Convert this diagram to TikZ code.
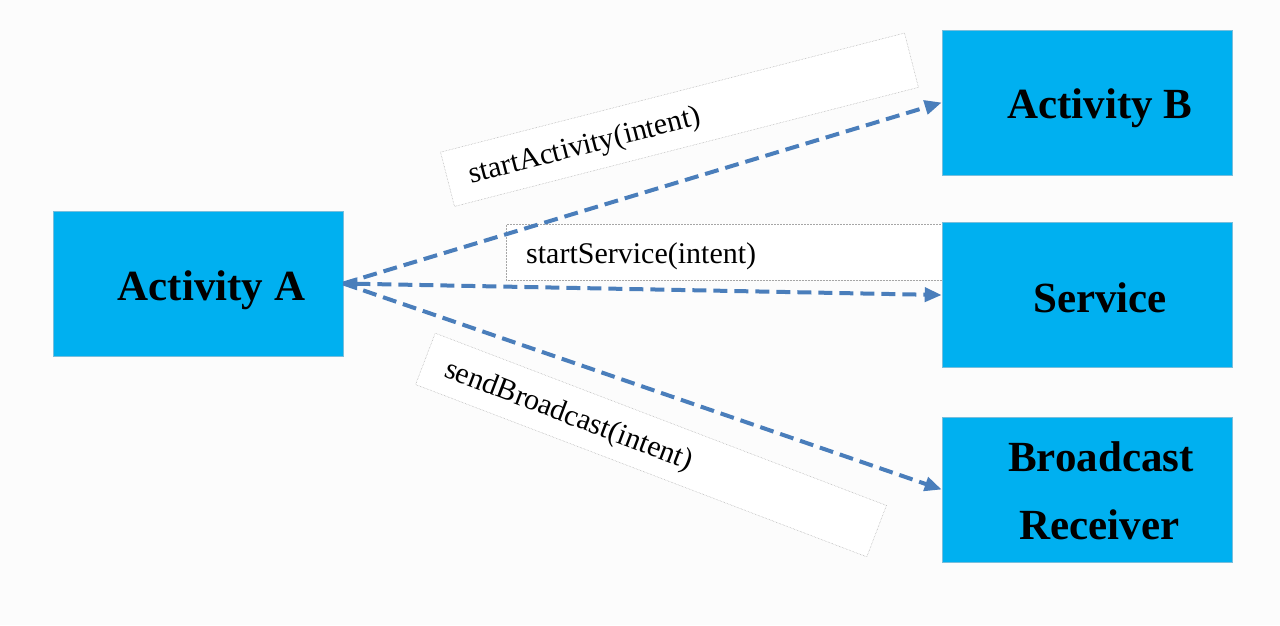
\documentclass[tikz,border=0pt]{standalone}
\usepackage{fontspec}
\setmainfont{Liberation Serif}
\usetikzlibrary{arrows.meta}
\definecolor{bgc}{RGB}{252,252,252}
\definecolor{boxblue}{RGB}{0,176,240}
\definecolor{boxedge}{RGB}{120,190,220}
\definecolor{arrowblue}{RGB}{74,126,187}
\tikzset{
  compbox/.style={fill=boxblue, draw=boxedge, line width=0.6pt, minimum width=290pt, minimum height=145pt, inner sep=0pt},
  comptext/.style={font=\fontsize{43}{50}\selectfont\bfseries, inner sep=0pt, anchor=base},
  labbox/.style={fill=white, draw=gray!70, densely dotted, line width=0.5pt, inner sep=0pt},
  labtext/.style={font=\fontsize{30}{36}\selectfont, inner sep=0pt, anchor=base west},
  callarrow/.style={draw=arrowblue, line width=4pt, dash pattern=on 14pt off 7pt, -{Triangle[length=17pt,width=14pt]}},
}
\begin{document}
\begin{tikzpicture}[x=1pt,y=-1pt]
\useasboundingbox (0,0) rectangle (1280,625);
\fill[bgc] (0,0) rectangle (1280,625);

% label boxes
\begin{scope}[shift={(679.5,119.75)}, rotate=14.4, transform shape]
  \node[labbox, minimum width=479pt, minimum height=56pt] (lA) at (0,0) {};
  \node[labtext] (tA) at (-218,10) {startActivity(intent)};
\end{scope}
\node[labbox, minimum width=436pt, minimum height=56pt] (lS) at (724,252) {};
\node[labtext] (tS) at (526,263) {startService(intent)};
\begin{scope}[shift={(651,445)}, rotate=-20.9, transform shape]
  \node[labbox, minimum width=483pt, minimum height=55pt] (lR) at (0,0) {};
  \node[labtext] (tR) at (-219,10) {sendBroadcast(intent)};
\end{scope}

% component boxes
\node[compbox] (A) at (198,283.5) {};
\node[compbox] (B) at (1087,102.5) {};
\node[compbox] (S) at (1087,295) {};
\node[compbox] (R) at (1087,489.5) {};

\node[comptext] (tAa) at (211.5,300) {Activity A};
\node[comptext] (tBb) at (1100,118) {Activity B};
\node[comptext] (tSs) at (1100,312) {Service};
\node[comptext] (tR1) at (1101,471) {Broadcast};
\node[comptext] (tR2) at (1099.5,539) {Receiver};

% connectors
\draw[callarrow] (A.east) -- (B.west);
\draw[callarrow] (A.east) -- (R.west);
\draw[callarrow, {Triangle[length=14pt,width=12pt]}-{Triangle[length=17pt,width=14pt]}] (A.east) -- (S.west);
\end{tikzpicture}
\end{document}
